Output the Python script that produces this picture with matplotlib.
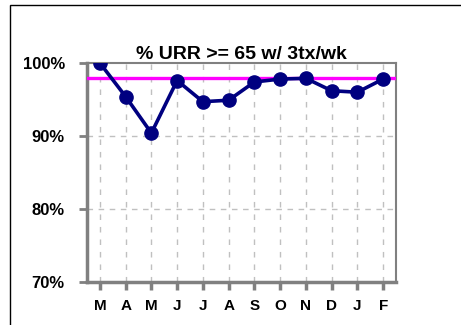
import matplotlib
matplotlib.use("Agg")
import matplotlib.pyplot as plt
from matplotlib.patches import Rectangle

months = ["M", "A", "M", "J", "J", "A", "S", "O", "N", "D", "J", "F"]
urr_pct = [100.0, 95.4, 90.4, 97.6, 94.7, 94.9, 97.4, 97.8, 97.9, 96.2, 96.0, 97.8]
goal_pct = 98.0
yticks = [70, 80, 90, 100]
ytick_labels = ["70%", "80%", "90%", "100%"]
title = "% URR >= 65 w/ 3tx/wk"

fig = plt.figure(figsize=(4.61, 3.25), dpi=100)
W, H = 461, 325
ax = fig.add_axes([87 / W, 1 - 282 / H, (396 - 87) / W, (282 - 63) / H])

x = list(range(len(months)))
ax.set_xlim(-0.5, len(months) - 0.5)
ax.set_ylim(70, 100)

ax.axhline(goal_pct, color="#ff00ff", lw=2.4, zorder=3)
ax.plot(x, urr_pct, color="#000080", lw=2.6, marker="o", ms=9.5, zorder=4)

ax.set_xticks(x)
ax.set_xticklabels(months, fontsize=11, fontweight="bold", family="Liberation Sans")
ax.set_yticks(yticks)
ax.set_yticklabels(ytick_labels, fontsize=12, fontweight="bold", family="Liberation Sans")

ax.tick_params(axis="y", length=6, width=2, color="#808080", pad=10)
ax.tick_params(axis="x", length=6, width=2.5, color="#808080", pad=6)

for xi in x:
    ax.axvline(xi, color="#c0c0c0", lw=1, ls=(0, (4, 5)), zorder=1)
for yv in [80, 90]:
    ax.axhline(yv, color="#c0c0c0", lw=1, ls=(0, (4, 4)), zorder=1)

for side in ["left", "bottom"]:
    ax.spines[side].set_color("#808080")
    ax.spines[side].set_linewidth(2.5)
for side in ["right", "top"]:
    ax.spines[side].set_color("#808080")
    ax.spines[side].set_linewidth(1.5)

ax.set_title(title, fontsize=14, fontweight="bold", family="Liberation Sans", pad=2.5)

fig.patches.append(Rectangle((10 / W, -0.1), 1.2, 1 - 5 / H + 0.1,
                             transform=fig.transFigure, fill=False,
                             edgecolor="black", lw=1))

fig.savefig("out.png", dpi=100)
